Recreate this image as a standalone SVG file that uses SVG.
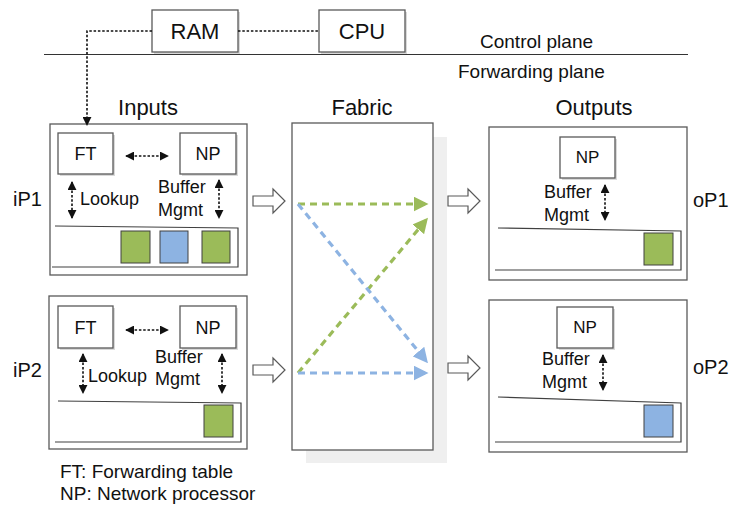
<svg xmlns="http://www.w3.org/2000/svg" width="735" height="506" viewBox="0 0 735 506">
  <defs>
    <style>
      text { font-family: "Liberation Sans", Arial, sans-serif; fill: #111; }
      .h { font-size: 22px; }
      .port { font-size: 20px; }
      .lbl { font-size: 18px; }
      .sm { font-size: 17px; }
      .plane { font-size: 19px; }
      .legend { font-size: 19px; }
      .box { fill: #fff; stroke: #595959; stroke-width: 1.3; }
      .shadow { fill: #d9d9d9; }
      .queue { fill: none; stroke: #404040; stroke-width: 1.2; }
      .dot { fill: none; stroke: #111; stroke-width: 1.6; stroke-dasharray: 2.5 1.8; }
      .hollow { fill: #fff; stroke: #595959; stroke-width: 1.2; }
      .green { fill: #9bbb59; stroke: #404040; stroke-width: 1; }
      .blue { fill: #8db3e2; stroke: #404040; stroke-width: 1; }
      .gdash { fill: none; stroke: #9bbb59; stroke-width: 3.2; stroke-dasharray: 7 5; }
      .bdash { fill: none; stroke: #8db3e2; stroke-width: 3.2; stroke-dasharray: 7 5; }
    </style>
    <marker id="blk" viewBox="0 0 10 10" refX="9" refY="5" markerWidth="9" markerHeight="9" markerUnits="userSpaceOnUse" orient="auto-start-reverse">
      <path d="M0,0 L10,5 L0,10 z" fill="#111"/>
    </marker>
    <marker id="ga" viewBox="0 0 10 10" refX="9" refY="5" markerWidth="15" markerHeight="15" markerUnits="userSpaceOnUse" orient="auto">
      <path d="M0,0 L10,5 L0,10 z" fill="#9bbb59"/>
    </marker>
    <marker id="ba" viewBox="0 0 10 10" refX="9" refY="5" markerWidth="15" markerHeight="15" markerUnits="userSpaceOnUse" orient="auto">
      <path d="M0,0 L10,5 L0,10 z" fill="#8db3e2"/>
    </marker>
  </defs>

  <!-- control / forwarding plane separator -->
  <line x1="44" y1="54.5" x2="688" y2="54.5" stroke="#333" stroke-width="1.2"/>
  <text class="plane" x="480" y="48">Control plane</text>
  <text class="plane" x="458" y="78">Forwarding plane</text>

  <!-- control plane nodes -->
  <g id="ram">
    <rect class="shadow" x="154" y="12" width="86" height="42"/>
    <rect class="box" x="152" y="10" width="86" height="42"/>
    <text class="h" x="195" y="39" text-anchor="middle">RAM</text>
  </g>
  <g id="cpu">
    <rect class="shadow" x="321" y="12" width="86" height="42"/>
    <rect class="box" x="319" y="10" width="86" height="42"/>
    <text class="h" x="362" y="39" text-anchor="middle">CPU</text>
  </g>

  <!-- column headings -->
  <text class="h" x="148" y="115" text-anchor="middle">Inputs</text>
  <text class="h" x="362" y="115" text-anchor="middle">Fabric</text>
  <text class="h" x="594" y="115" text-anchor="middle">Outputs</text>

  <!-- port labels -->
  <text class="port" x="13" y="206">iP1</text>
  <text class="port" x="13" y="377">iP2</text>
  <text class="port" x="693" y="207">oP1</text>
  <text class="port" x="693" y="374">oP2</text>

  <!-- input port 1 -->
  <g id="iP1">
    <rect class="box" x="50" y="124" width="197" height="151"/>
    <rect class="shadow" x="60" y="135" width="55" height="41"/>
    <rect class="box" x="58" y="133" width="55" height="41"/>
    <text class="lbl" x="85.5" y="160" text-anchor="middle">FT</text>
    <rect class="shadow" x="182" y="135" width="56" height="41"/>
    <rect class="box" x="180" y="133" width="56" height="41"/>
    <text class="lbl" x="208" y="160" text-anchor="middle">NP</text>
    <text class="lbl" x="80" y="205">Lookup</text>
    <text class="lbl" x="158" y="193">Buffer</text>
    <text class="lbl" x="158" y="216">Mgmt</text>
    <polyline class="queue" points="55,226 238,228 238,267 52,267"/>
    <rect class="green" x="121" y="231" width="29" height="32"/>
    <rect class="blue" x="160" y="231" width="28" height="32"/>
    <rect class="green" x="202" y="231" width="28" height="32"/>
  </g>

  <!-- input port 2 -->
  <g id="iP2">
    <rect class="box" x="49" y="296" width="198" height="153"/>
    <rect class="shadow" x="60" y="308" width="55" height="42"/>
    <rect class="box" x="58" y="306" width="55" height="42"/>
    <text class="lbl" x="85.5" y="334" text-anchor="middle">FT</text>
    <rect class="shadow" x="182" y="308" width="56" height="42"/>
    <rect class="box" x="180" y="306" width="56" height="42"/>
    <text class="lbl" x="208" y="334" text-anchor="middle">NP</text>
    <text class="lbl" x="88" y="382">Lookup</text>
    <text class="lbl" x="155" y="363">Buffer</text>
    <text class="lbl" x="155" y="385">Mgmt</text>
    <polyline class="queue" points="58,401 241,403 241,442 55,442"/>
    <rect class="green" x="204" y="405" width="29" height="32"/>
  </g>

  <!-- switch fabric -->
  <g id="fabric">
    <rect x="306" y="137" width="141" height="326" fill="#efefef"/>
    <rect class="box" x="292" y="123" width="141" height="327"/>
  </g>

  <!-- output port 1 -->
  <g id="oP1">
    <rect class="box" x="489" y="127" width="198" height="153"/>
    <rect class="shadow" x="562" y="139" width="55" height="41"/>
    <rect class="box" x="560" y="137" width="55" height="41"/>
    <text class="sm" x="587.5" y="163" text-anchor="middle">NP</text>
    <text class="lbl" x="544" y="198">Buffer</text>
    <text class="lbl" x="544" y="221">Mgmt</text>
    <polyline class="queue" points="498,228 681,231 681,270 495,270"/>
    <rect class="green" x="644" y="233" width="29" height="32"/>
  </g>

  <!-- output port 2 -->
  <g id="oP2">
    <rect class="box" x="489" y="300" width="198" height="152"/>
    <rect class="shadow" x="559" y="309" width="56" height="41"/>
    <rect class="box" x="557" y="307" width="56" height="41"/>
    <text class="sm" x="585" y="333" text-anchor="middle">NP</text>
    <text class="lbl" x="542" y="365">Buffer</text>
    <text class="lbl" x="542" y="388">Mgmt</text>
    <polyline class="queue" points="498,397 681,403 681,442 495,442"/>
    <rect class="blue" x="644" y="405" width="29" height="32"/>
  </g>

  <!-- connectors -->
  <g id="connectors">
    <!-- control links -->
    <polyline class="dot" points="152,31 87,31 87,125" marker-end="url(#blk)"/>
    <line class="dot" x1="238" y1="31" x2="319" y2="31"/>

    <!-- lookup / buffer management links -->
    <line class="dot" x1="126" y1="156" x2="168" y2="156" marker-start="url(#blk)" marker-end="url(#blk)"/>
    <line class="dot" x1="72" y1="182" x2="72" y2="218" marker-start="url(#blk)" marker-end="url(#blk)"/>
    <line class="dot" x1="219" y1="180" x2="219" y2="218" marker-start="url(#blk)" marker-end="url(#blk)"/>

    <line class="dot" x1="126" y1="330" x2="168" y2="330" marker-start="url(#blk)" marker-end="url(#blk)"/>
    <line class="dot" x1="83" y1="354" x2="83" y2="393" marker-start="url(#blk)" marker-end="url(#blk)"/>
    <line class="dot" x1="222" y1="354" x2="222" y2="393" marker-start="url(#blk)" marker-end="url(#blk)"/>

    <line class="dot" x1="605" y1="185" x2="605" y2="220" marker-start="url(#blk)" marker-end="url(#blk)"/>
    <line class="dot" x1="603" y1="355" x2="603" y2="390" marker-start="url(#blk)" marker-end="url(#blk)"/>

    <!-- hollow block arrows into and out of the fabric -->
    <path class="hollow" d="M253,196 H273 V189 L285,201 L273,213 V206 H253 Z"/>
    <path class="hollow" d="M253,365 H273 V358 L285,370 L273,382 V375 H253 Z"/>
    <path class="hollow" d="M448,196 H468 V189 L480,201 L468,213 V206 H448 Z"/>
    <path class="hollow" d="M448,363 H468 V356 L480,368 L468,380 V373 H448 Z"/>

    <!-- paths through the fabric -->
    <line class="gdash" x1="298" y1="204" x2="427" y2="204" marker-end="url(#ga)"/>
    <line class="gdash" x1="298" y1="373" x2="427" y2="219" marker-end="url(#ga)"/>
    <line class="bdash" x1="298" y1="204" x2="427" y2="362" marker-end="url(#ba)"/>
    <line class="bdash" x1="298" y1="373" x2="427" y2="373" marker-end="url(#ba)"/>
  </g>

  <!-- legend -->
  <text class="legend" x="60" y="478">FT: Forwarding table</text>
  <text class="legend" x="60" y="500">NP: Network processor</text>
</svg>
